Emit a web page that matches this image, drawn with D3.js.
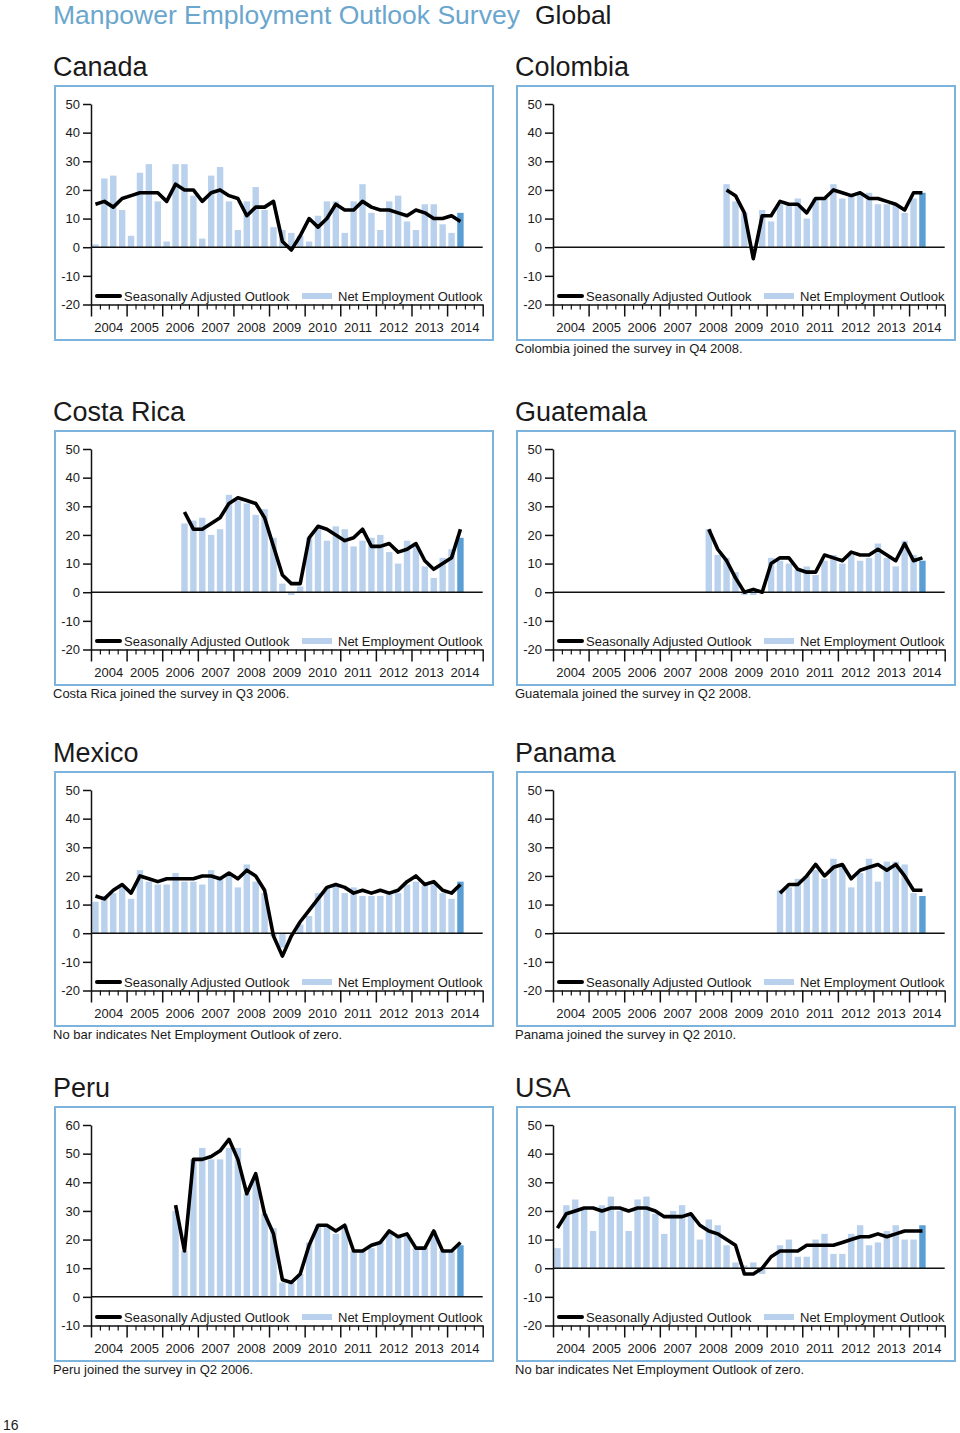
<!DOCTYPE html>
<html>
<head>
<meta charset="utf-8">
<script src="https://cdn.jsdelivr.net/npm/d3@7"></script>
<style>
  body { margin: 0; background: #fff; }
  svg text { font-family: "Liberation Sans", Arial, Helvetica, sans-serif; fill: #1a1a1a; }
</style>
</head>
<body>
<div id="page"></div>
<script>
// quarters 2004 Q1 .. 2014 Q2 (42 points), null = country not yet in survey
var years = ["2004", "2005", "2006", "2007", "2008", "2009", "2010", "2011", "2012", "2013", "2014"];

function pad(n) { return Array(n).fill(null); }

var canadaNet = [1,24,25,13,4,26,29,16,2,29,29,18,3,25,28,16,6,16,21,13,7,6,5,4,2,11,16,16,5,16,22,12,6,16,18,9,6,15,15,8,5,12];
var canadaSA = [15,16,14,17,18,19,19,19,16,22,20,20,16,19,20,18,17,11,14,14,16,2,-1,4,10,7,10,15,13,13,16,14,13,13,12,11,13,12,10,10,11,9];

var colombiaNet = pad(19).concat([22,16,12,0,13,9,15,15,17,10,17,17,22,17,18,19,19,15,15,15,12,17,19]);
var colombiaSA = pad(19).concat([20,18,12,-4,11,11,16,15,15,12,17,17,20,19,18,19,17,17,16,15,13,19,19]);

var costaRicaNet = pad(10).concat([24,25,26,20,22,34,32,31,27,29,19,3,-1,2,19,22,18,23,22,16,18,19,20,14,10,18,16,9,5,12,15,19]);
var costaRicaSA = pad(10).concat([28,22,22,24,26,31,33,32,31,26,16,6,3,3,19,23,22,20,18,19,22,16,16,17,14,15,17,11,8,10,12,22]);

var guatemalaNet = pad(17).concat([22,13,12,7,-1,-1,0,12,11,10,8,9,6,11,13,10,13,11,12,17,12,9,18,13,11]);
var guatemalaSA = pad(17).concat([22,15,11,5,0,1,0,10,12,12,8,7,7,13,12,11,14,13,13,15,13,11,17,11,12]);

var mexicoNet = [11,13,14,17,12,22,18,17,17,21,18,18,17,22,19,20,16,24,18,14,-1,-5,0,3,6,14,16,17,14,16,13,13,13,14,14,17,18,17,18,14,12,18];
var mexicoSA = [13,12,15,17,14,20,19,18,19,19,19,19,20,20,19,21,19,22,20,15,-1,-8,-1,4,8,12,16,17,16,14,15,14,15,14,15,18,20,17,18,15,14,17];

var panamaNet = pad(25).concat([15,16,19,20,22,19,26,24,16,21,26,18,25,25,24,14,13]);
var panamaSA = pad(25).concat([14,17,17,20,24,20,23,24,19,22,23,24,22,24,20,15,15]);

var peruNet = pad(9).concat([30,16,48,52,48,48,52,52,36,42,29,24,5,5,8,19,25,25,22,25,16,16,17,19,23,21,22,17,17,23,16,16,18]);
var peruSA = pad(9).concat([32,16,48,48,49,51,55,48,36,43,29,22,6,5,8,18,25,25,23,25,16,16,18,19,23,21,22,17,17,23,16,16,19]);

var usaNet = [7,22,24,21,13,22,25,20,13,24,25,19,12,20,22,19,10,17,15,8,2,1,2,-2,0,8,10,4,4,10,12,5,5,12,15,8,9,13,15,10,10,15];
var usaSA = [14,19,20,21,21,20,21,21,20,21,21,20,18,18,18,19,15,13,12,10,8,-2,-2,0,4,6,6,6,8,8,8,8,9,10,11,11,12,11,12,13,13,13];

var countries = ["Canada", "Colombia", "Costa Rica", "Guatemala", "Mexico", "Panama", "Peru", "USA"];
var notes = [
  "",
  "Colombia joined the survey in Q4 2008.",
  "Costa Rica joined the survey in Q3 2006.",
  "Guatemala joined the survey in Q2 2008.",
  "No bar indicates Net Employment Outlook of zero.",
  "Panama joined the survey in Q2 2010.",
  "Peru joined the survey in Q2 2006.",
  "No bar indicates Net Employment Outlook of zero."
];
var yDomains = [[-20, 50], [-20, 50], [-20, 50], [-20, 50], [-20, 50], [-20, 50], [-10, 60], [-20, 50]];
var netSeries = [canadaNet, colombiaNet, costaRicaNet, guatemalaNet, mexicoNet, panamaNet, peruNet, usaNet];
var saSeries = [canadaSA, colombiaSA, costaRicaSA, guatemalaSA, mexicoSA, panamaSA, peruSA, usaSA];

// layout
var W = 960, H = 1433;
var boxW = 438, boxH = 254;
var colX = [55, 517];
var rowY = [86, 431, 772, 1107];
var NQ = 44; // quarter slots on the axis
var LIGHT = "#b9d1ec", DARK = "#5a9ed3", BORDER = "#7db4de", TITLE_BLUE = "#6aa6cd";

var svg = d3.select("#page").append("svg").attr("width", W).attr("height", H);

// page header
var head = svg.append("text").attr("x", 53).attr("y", 24).style("font-size", "26.5px");
head.append("tspan").style("fill", TITLE_BLUE).text("Manpower Employment Outlook Survey");
head.append("tspan").attr("dx", 15).text("Global");

svg.append("text").attr("x", 3).attr("y", 1430).style("font-size", "14px").text("16");

countries.forEach(function (name, k) {
  var bx = colX[k % 2], by = rowY[Math.floor(k / 2)];
  var net = netSeries[k], sa = saSeries[k];
  var dom = yDomains[k];

  var x = d3.scaleLinear().domain([0, NQ]).range([bx + 36, bx + 427.7]);
  var y = d3.scaleLinear().domain(dom).range([by + 218.5, by + 18]);
  var barW = 6.4;
  var cx = function (i) { return x(i + 0.5); };

  // country title
  svg.append("text").attr("x", bx - 2).attr("y", by - 10).style("font-size", "27px").text(name);

  // frame
  svg.append("rect")
    .attr("x", bx).attr("y", by).attr("width", boxW).attr("height", boxH)
    .attr("fill", "none").attr("stroke", BORDER).attr("stroke-width", 2);

  var g = svg.append("g");

  // bars (net employment outlook)
  g.selectAll("rect.bar")
    .data(net.map(function (v, i) { return { v: v, i: i }; }).filter(function (d) { return d.v !== null && d.v !== 0; }))
    .enter()
    .append("rect")
    .attr("class", "bar")
    .attr("x", function (d) { return cx(d.i) - barW / 2; })
    .attr("y", function (d) { return y(Math.max(0, d.v)); })
    .attr("width", barW)
    .attr("height", function (d) { return Math.abs(y(d.v) - y(0)); })
    .attr("fill", function (d) { return d.i === net.length - 1 ? DARK : LIGHT; });

  // zero line
  g.append("line")
    .attr("x1", x(0)).attr("x2", x(NQ)).attr("y1", y(0)).attr("y2", y(0))
    .attr("stroke", "#111").attr("stroke-width", 1.5);

  // y axis (plain hyphen for negatives, as in the print)
  var ya = g.append("g")
    .attr("transform", "translate(" + x(0) + ",0)")
    .call(d3.axisLeft(y).tickValues(d3.range(dom[0], dom[1] + 1, 10)).tickSize(8).tickSizeOuter(0).tickPadding(3)
      .tickFormat(function (d) { return String(d); }));
  ya.select(".domain").attr("stroke", "#111").attr("stroke-width", 1.5);
  ya.selectAll(".tick line").attr("stroke", "#111").attr("stroke-width", 1.5);
  ya.selectAll(".tick text").style("font-size", "13px").attr("fill", "#1a1a1a");

  // x axis: year ticks, quarter ticks, year labels
  var yb = y(dom[0]);
  var xMajor = g.append("g")
    .attr("transform", "translate(0," + yb + ")")
    .call(d3.axisBottom(x).tickValues(d3.range(0, NQ + 1, 4)).tickSize(12).tickSizeOuter(0).tickFormat(""));
  xMajor.select(".domain").attr("stroke", "#111").attr("stroke-width", 1.5);
  xMajor.selectAll(".tick line").attr("stroke", "#111").attr("stroke-width", 1.5);

  var xMinor = g.append("g")
    .attr("transform", "translate(0," + yb + ")")
    .call(d3.axisBottom(x).tickValues(d3.range(0, NQ + 1).filter(function (q) { return q % 4; })).tickSize(5).tickFormat(""));
  xMinor.select(".domain").remove();
  xMinor.selectAll(".tick line").attr("stroke", "#111").attr("stroke-width", 1.2);

  var band = d3.scaleBand().domain(years).range([x(0), x(NQ)]);
  var xLab = g.append("g")
    .attr("transform", "translate(0," + yb + ")")
    .call(d3.axisBottom(band).tickSize(0).tickPadding(18));
  xLab.select(".domain").remove();
  xLab.selectAll(".tick text").style("font-size", "13px").attr("fill", "#1a1a1a");

  // seasonally adjusted line
  var line = d3.line()
    .defined(function (v) { return v !== null; })
    .x(function (v, i) { return cx(i); })
    .y(function (v) { return y(v); });
  g.append("path")
    .datum(sa)
    .attr("d", line)
    .attr("fill", "none")
    .attr("stroke", "#000")
    .attr("stroke-width", 3.6)
    .attr("stroke-linejoin", "round");

  // legend
  var ly = by + 210;
  g.append("line").attr("x1", bx + 42).attr("x2", bx + 65).attr("y1", ly).attr("y2", ly)
    .attr("stroke", "#000").attr("stroke-width", 4).attr("stroke-linecap", "round");
  g.append("text").attr("x", bx + 69).attr("y", ly + 4.5).style("font-size", "13px").text("Seasonally Adjusted Outlook");
  g.append("rect").attr("x", bx + 247).attr("y", ly - 3).attr("width", 30).attr("height", 6).attr("fill", LIGHT);
  g.append("text").attr("x", bx + 283).attr("y", ly + 4.5).style("font-size", "13px").text("Net Employment Outlook");

  // footnote
  if (notes[k]) {
    svg.append("text").attr("x", bx - 2).attr("y", by + 267).style("font-size", "13px").text(notes[k]);
  }
});
</script>
</body>
</html>
